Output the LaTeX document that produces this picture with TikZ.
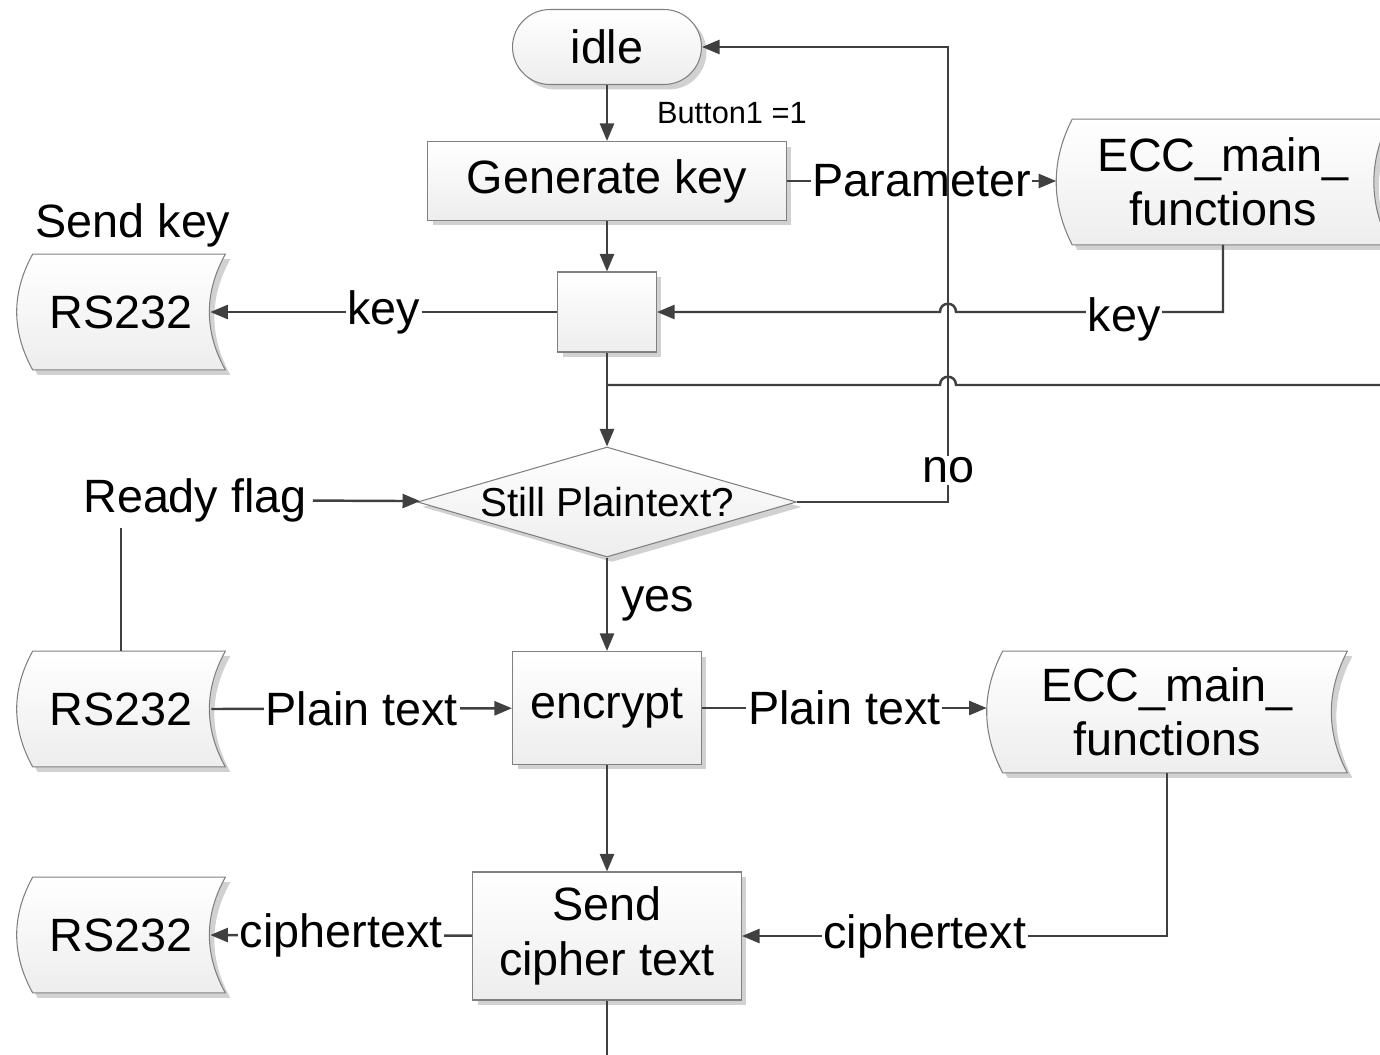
\documentclass[tikz,border=0pt]{standalone}
\usepackage{fontspec}
\setmainfont{Liberation Sans}
\usetikzlibrary{arrows.meta,shapes.geometric,shadows,calc,backgrounds}
\newcommand{\fs}{\fontsize{26.6pt}{31pt}\selectfont}
\newcommand{\storepath}[1]{($(#1.north west)+(16,0)$)
  .. controls ($(#1.north west)!.333!(#1.south west)+(-5.3,0)$) and ($(#1.north west)!.667!(#1.south west)+(-5.3,0)$) .. ($(#1.south west)+(16,0)$)
  -- (#1.south east)
  .. controls ($(#1.north east)!.667!(#1.south east)+(-21.3,0)$) and ($(#1.north east)!.333!(#1.south east)+(-21.3,0)$) .. (#1.north east)
  -- cycle}

\begin{document}
\begin{tikzpicture}[x=0.02cm, y=-0.02cm,
  every node/.style={font=\fs, text=black},
  proc/.style={draw=black!50, line width=.6pt, top color=white, bottom color=black!7,
    drop shadow={shadow xshift=.1cm, shadow yshift=-.1cm, fill=black!18, opacity=1}},
  store/.style={inner sep=0pt, align=center},
  storefill/.style={draw=black!50, line width=.6pt, top color=white, bottom color=black!7},
  storeshadow/.style={fill=black!18, transform canvas={xshift=.1cm, yshift=-.1cm}},
  conn/.style={draw=black!75, line width=1.4pt},
  arr/.style={conn, -{Triangle[length=10pt, width=8pt]}},
  lbl/.style={fill=white, inner sep=1pt}]
  \useasboundingbox (0,0) rectangle (1380,1055);
  \clip (0,0) rectangle (1380,1055);

  % main column
  \node[proc, rounded corners=.75cm, minimum width=3.78cm, minimum height=1.5cm] (idle) at (607,47) {idle};
  \node[proc, minimum width=7.18cm, minimum height=1.58cm] (gen) at (607,181) {Generate key};
  \node[proc, minimum width=1.98cm, minimum height=1.6cm] (box) at (607,312) {};
  \node[proc, diamond, minimum width=7.58cm, minimum height=2.2cm, inner sep=0pt,
    font=\fontsize{23pt}{27pt}\selectfont] (dia) at (607,502) {\smash{\makebox[0pt]{\raisebox{-.36em}{Still Plaintext?}}}};
  \node[proc, minimum width=3.78cm, minimum height=2.26cm] (enc) at (607,708) {encrypt};
  \node[proc, minimum width=5.38cm, minimum height=2.56cm, align=center] (send) at (607,936) {Send\\cipher text};

  % stored data
  \node[store, minimum width=4.16cm, minimum height=2.3cm] (rs1) at (121,312) {RS232};
  \node[store, minimum width=4.16cm, minimum height=2.3cm] (rs2) at (121,709) {RS232};
  \node[store, minimum width=4.16cm, minimum height=2.3cm] (rs3) at (121,935) {RS232};
  \node[store, minimum width=6.66cm, minimum height=2.5cm] (ecc1) at (1223,182) {ECC\_main\_\\functions};
  \node[store, minimum width=7.2cm, minimum height=2.42cm] (ecc2) at (1167,712) {ECC\_main\_\\functions};
  \begin{scope}[on background layer]
    \foreach \s in {rs1,rs2,rs3,ecc1,ecc2} {
      \path[storeshadow] \storepath{\s};
      \path[storefill] \storepath{\s};
    }
  \end{scope}

  \node (sendkey) at (133,225) {Send key};
  \node (flag) at (195,500) {Ready flag};
  \coordinate (nx) at (948,502);
  \coordinate (off) at (1400,385);
  \coordinate (exit) at (607,1070);

  % connectors
  \draw[arr] (idle) -- node[anchor=west, xshift=.86cm, font=\fontsize{17.5pt}{20pt}\selectfont]{Button1 =1} (gen);
  \draw[arr] (gen.east) -- node[lbl]{Parameter} (gen.east -| ecc1.west);
  \draw[arr] (gen) -- (box);
  \draw[arr] (ecc1.south) -- (ecc1.south |- box.east) -- node[lbl, pos=.37, yshift=-4pt]{key}
    ($(nx |- box.east)+(8,0)$) .. controls +(0,-11) and +(0,-11) .. ($(nx |- box.east)+(-8,0)$) -- (box.east);
  \draw[arr] (box) -- node[lbl]{key} ($(rs1.east)+(-15,0)$);
  \draw[arr] (box) -- (dia);
  \draw[conn] (box.south |- off) -- ($(nx |- off)+(-8,0)$) .. controls +(0,-11) and +(0,-11) .. ($(nx |- off)+(8,0)$) -- (off);
  \draw[arr] (dia.east) -- (nx) -- node[lbl, pos=.07]{no} (nx |- idle.east) -- (idle.east);
  \draw[conn] (rs2.north) -- (rs2.north |- flag.south);
  \draw[arr] (flag) -- (dia);
  \draw[arr] (dia) -- node[anchor=west, xshift=.15cm]{yes} (enc);
  \draw[arr] ($(rs2.east)+(-14,0)$) -- node[lbl]{Plain text} (enc);
  \draw[arr] (enc) -- node[lbl]{Plain text} (enc.east -| ecc2.west);
  \draw[arr] (enc) -- (send);
  \draw[arr] (ecc2.south) |- node[lbl, pos=.785]{ciphertext} (send.east);
  \draw[arr] (send) -- node[lbl]{ciphertext} ($(rs3.east)+(-15,0)$);
  \draw[conn] (send) -- (exit);
\end{tikzpicture}
\end{document}
